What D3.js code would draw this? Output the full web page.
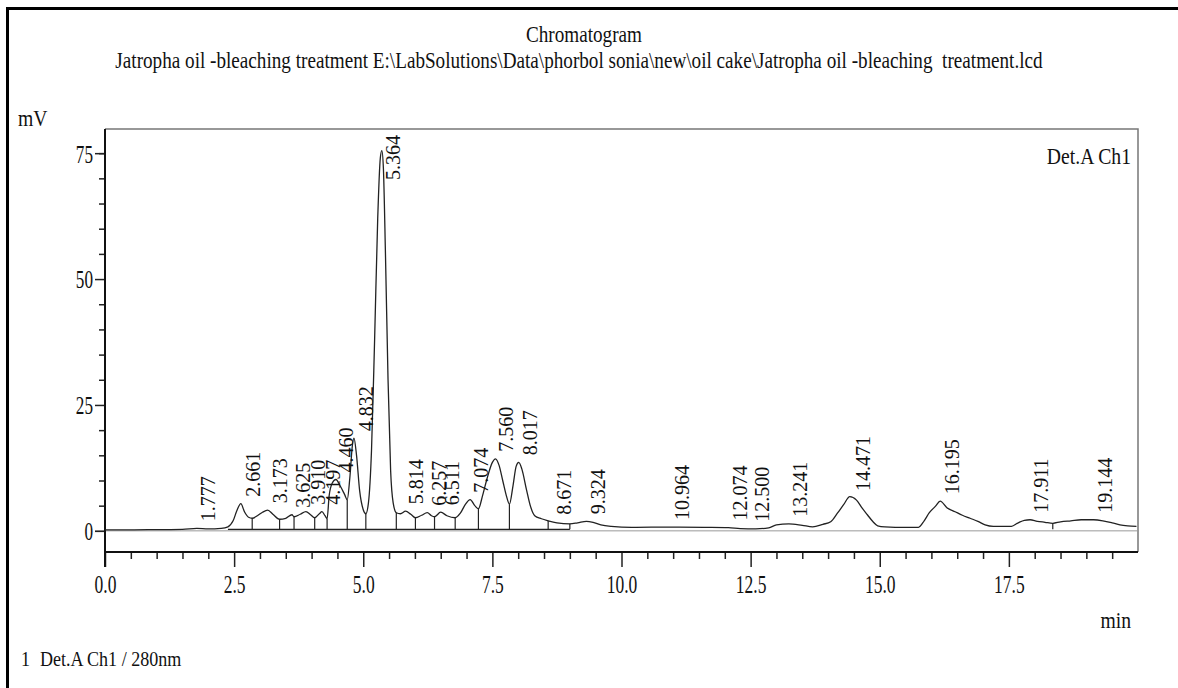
<!DOCTYPE html>
<html>
<head>
<meta charset="utf-8">
<script src="https://cdn.jsdelivr.net/npm/d3@7"></script>
<style>
  body { margin: 0; background: #fff; }
  svg text { font-family: "Liberation Serif", "Times New Roman", serif; fill: #111; white-space: pre; }
</style>
</head>
<body>
<div id="chart"></div>
<script>

// chromatogram trace (time in min, signal in mV)
const traceTime = [
  0.0, 0.5, 1.0, 1.5, 1.777, 2.0, 2.25, 2.38, 2.48, 2.56, 2.63, 2.70, 2.78, 2.85, 2.95, 3.05, 3.15, 3.25,
  3.38, 3.50, 3.62, 3.66, 3.78, 3.89, 3.98, 4.06, 4.15, 4.20, 4.26, 4.30, 4.34, 4.40, 4.47, 4.56, 4.64,
  4.69, 4.74, 4.79, 4.82, 4.87, 4.93, 5.00, 5.05, 5.10, 5.16, 5.22, 5.28, 5.33, 5.36, 5.39, 5.43, 5.48,
  5.53, 5.58, 5.64, 5.72, 5.82, 5.92, 6.01, 6.13, 6.24, 6.32, 6.38, 6.50, 6.62, 6.78, 6.88, 6.98, 7.07,
  7.16, 7.23, 7.31, 7.40, 7.50, 7.56, 7.63, 7.70, 7.77, 7.83, 7.90, 7.96, 8.01, 8.07, 8.16, 8.24, 8.32,
  8.45, 8.58, 8.75, 9.00, 9.15, 9.32, 9.45, 9.60, 9.80, 10.2, 10.96, 11.6, 12.07, 12.3, 12.6, 12.85, 13.0,
  13.24, 13.5, 13.7, 13.9, 14.05, 14.18, 14.3, 14.42, 14.55, 14.66, 14.76, 14.87, 14.96, 15.1, 15.5, 15.75,
  15.86, 15.96, 16.08, 16.17, 16.30, 16.46, 16.60, 16.75, 16.9, 17.04, 17.2, 17.55, 17.68, 17.8, 17.91,
  18.05, 18.2, 18.35, 18.5, 18.7, 18.9, 19.14, 19.32, 19.5, 19.65, 19.8, 19.97
]
const traceSignal = [
  0.2, 0.2, 0.25, 0.3, 0.5, 0.4, 0.5, 0.8, 2.0, 4.2, 5.4, 3.8, 2.7, 2.5, 3.0, 3.7, 4.1, 3.3,
  2.3, 2.5, 3.2, 2.8, 3.3, 3.8, 3.2, 2.6, 3.4, 3.8, 3.0, 2.4, 7.0, 9.5, 10.2, 8.8, 7.2,
  6.2, 10.5, 17.0, 18.4, 15.0, 8.0, 4.2, 3.4, 5.5, 16, 38, 62, 74, 75.5, 72, 55, 30,
  12, 5.5, 3.6, 3.4, 3.9, 3.3, 2.6, 3.1, 3.6, 3.0, 2.8, 3.7, 3.0, 2.6, 3.5, 5.3, 6.2,
  5.0, 4.4, 7.0, 10.5, 13.6, 14.3, 13.0, 10.0, 7.0, 5.3, 9.0, 12.8, 13.6, 12.3, 8.2, 4.8, 3.0,
  2.4, 2.0, 1.6, 1.4, 1.6, 1.9, 1.7, 1.2, 0.9, 0.7, 0.75, 0.7, 0.65, 0.45, 0.4, 0.6, 1.2,
  1.4, 1.1, 0.8, 1.3, 1.8, 3.5, 5.2, 6.8, 6.1, 4.5, 3.2, 1.8, 1.0, 0.8, 0.7, 0.7,
  2.0, 3.6, 4.9, 5.9, 4.6, 3.8, 3.1, 2.5, 1.9, 1.2, 0.9, 0.9, 1.6, 2.1, 2.2,
  1.9, 1.7, 1.5, 1.8, 2.0, 2.2, 2.2, 2.0, 1.6, 1.2, 1.0, 0.9
]

// retention times printed above the peaks
const peakTimes = [
  1.777, 2.661, 3.173, 3.625, 3.910, 4.197, 4.460, 4.832, 5.364, 5.814, 6.257, 6.511, 7.074, 7.560,
  8.017, 8.671, 9.324, 10.964, 12.074, 12.500, 13.241, 14.471, 16.195, 17.911, 19.144
]

// peak boundaries where a drop line is drawn down to the baseline
const dropTimes = [2.85, 3.38, 3.66, 4.06, 4.30, 4.69, 5.05, 5.64, 6.01, 6.38, 6.78, 7.23, 7.83, 8.58, 9.00, 18.35]

const yMajorTicks = [0, 25, 50, 75]
const yMinorTicks = [5, 10, 15, 20, 30, 35, 40, 45, 55, 60, 65, 70, 75]
const xMajorTicks = [0, 2.5, 5, 7.5, 10, 12.5, 15, 17.5]
const xMinorTicks = [0.5, 1, 1.5, 2, 3, 3.5, 4, 4.5, 5.5, 6, 6.5, 7, 8, 8.5, 9, 9.5, 10.5, 11, 11.5, 12,
  13, 13.5, 14, 14.5, 15.5, 16, 16.5, 17, 18, 18.5, 19, 19.5]

const titleText = 'Chromatogram'
const subtitleText = 'Jatropha oil -bleaching treatment E:\\LabSolutions\\Data\\phorbol sonia\\new\\oil cake\\Jatropha oil -bleaching  treatment.lcd'
const yUnit = 'mV'
const xUnit = 'min'
const channelText = 'Det.A Ch1'
const footNumber = '1'
const footText = 'Det.A Ch1 / 280nm'

const integrationLevel = 0.3
const serif = '"Liberation Serif", "Times New Roman", serif'

const width = 1178
const height = 688
const margin = { left: 105, right: 40, top: 129, bottom: 136 }

const svg = d3.select('#chart')
  .append('svg')
  .attr('width', width)
  .attr('height', height)

const x = d3.scaleLinear().domain([0, 20]).range([margin.left, width - margin.right])
const y = d3.scaleLinear().domain([-4.2, 79.8]).range([height - margin.bottom, margin.top])

const plotL = x.range()[0], plotR = x.range()[1]
const plotT = y.range()[1], plotB = y.range()[0]

// outer frame of the printout
svg.append('path')
  .attr('d', `M7.5,${height} V8.5 H${width}`)
  .attr('fill', 'none')
  .attr('stroke', '#000')
  .attr('stroke-width', 3)

// plot box (top + right edges are grey)
svg.append('path')
  .attr('d', `M${plotL},${plotT} H${plotR} V${plotB}`)
  .attr('fill', 'none')
  .attr('stroke', '#777')
  .attr('stroke-width', 1.5)

// zero line
svg.append('line')
  .attr('x1', plotL - 10).attr('x2', plotR)
  .attr('y1', y(0)).attr('y2', y(0))
  .attr('stroke', '#999')
  .attr('stroke-width', 1)

// text helper: condensed serif
const textScale = 0.82
function addText(str, tx, ty, size, anchor) {
  return svg.append('text')
    .attr('transform', `translate(${tx},${ty}) scale(${textScale},1)`)
    .style('font-family', serif)
    .attr('font-size', size)
    .attr('text-anchor', anchor)
    .text(str)
}

// y axis
const yMajor = svg.append('g')
  .attr('transform', `translate(${plotL},0)`)
  .call(d3.axisLeft(y).tickValues(yMajorTicks).tickSize(10).tickSizeOuter(0).tickFormat(d3.format('d')))
yMajor.select('.domain').remove()
yMajor.selectAll('.tick line').attr('stroke', '#222').attr('stroke-width', 1.5)
yMajor.selectAll('.tick text')
  .attr('x', 0).attr('dy', '0.34em')
  .attr('transform', `translate(-12,0) scale(0.66,1)`)
  .style('font-family', serif)
  .attr('font-size', 26)
  .attr('fill', '#222')

const yMinor = svg.append('g')
  .attr('transform', `translate(${plotL},0)`)
  .call(d3.axisLeft(y).tickValues(yMinorTicks).tickSize(6).tickSizeOuter(0).tickFormat(''))
yMinor.select('.domain').remove()
yMinor.selectAll('.tick line').attr('stroke', '#222').attr('stroke-width', 1.5)

// x axis
const xMajor = svg.append('g')
  .attr('transform', `translate(0,${plotB})`)
  .call(d3.axisBottom(x).tickValues(xMajorTicks).tickSize(15).tickSizeOuter(0).tickFormat(d3.format('.1f')))
xMajor.select('.domain').remove()
xMajor.selectAll('.tick line').attr('stroke', '#222').attr('stroke-width', 1.5)
xMajor.selectAll('.tick text')
  .attr('y', 0).attr('dy', 0)
  .attr('transform', `translate(0,41) scale(0.7,1)`)
  .style('font-family', serif)
  .attr('font-size', 25)
  .attr('fill', '#222')

const xMinor = svg.append('g')
  .attr('transform', `translate(0,${plotB})`)
  .call(d3.axisBottom(x).tickValues(xMinorTicks).tickSize(7).tickSizeOuter(0).tickFormat(''))
xMinor.select('.domain').remove()
xMinor.selectAll('.tick line').attr('stroke', '#222').attr('stroke-width', 1.5)

// axis lines
svg.append('line')
  .attr('x1', plotL).attr('x2', plotL)
  .attr('y1', plotT).attr('y2', plotB + 15)
  .attr('stroke', '#111').attr('stroke-width', 2)
svg.append('line')
  .attr('x1', plotL).attr('x2', plotR)
  .attr('y1', plotB).attr('y2', plotB)
  .attr('stroke', '#111').attr('stroke-width', 2)

// integration baseline + drop lines
function signalAt(t) {
  const i = d3.bisectLeft(traceTime, t)
  if (i <= 0) return traceSignal[0]
  if (i >= traceTime.length) return traceSignal[traceSignal.length - 1]
  const t0 = traceTime[i - 1], t1 = traceTime[i]
  return traceSignal[i - 1] + (traceSignal[i] - traceSignal[i - 1]) * (t - t0) / (t1 - t0)
}

svg.append('line')
  .attr('x1', x(2.38)).attr('x2', x(9.0))
  .attr('y1', y(integrationLevel)).attr('y2', y(integrationLevel))
  .attr('stroke', '#222').attr('stroke-width', 1.2)

svg.append('g')
  .selectAll('line')
  .data(dropTimes)
  .join('line')
    .attr('x1', d => x(d)).attr('x2', d => x(d))
    .attr('y1', y(integrationLevel))
    .attr('y2', d => y(signalAt(d)))
    .attr('stroke', '#222')
    .attr('stroke-width', 1.2)

// the trace
const line = d3.line()
  .x(i => x(traceTime[i]))
  .y(i => y(traceSignal[i]))
  .curve(d3.curveMonotoneX)

svg.append('path')
  .datum(d3.range(traceTime.length))
  .attr('d', line)
  .attr('fill', 'none')
  .attr('stroke', '#222')
  .attr('stroke-width', 1.3)

// retention time labels (rotated, reading upward)
const labelGap = 7
svg.append('g')
  .selectAll('text')
  .data(peakTimes)
  .join('text')
    .style('font-family', serif)
    .attr('font-size', 20)
    .attr('fill', '#222')
    .text(d => d3.format('.3f')(d))
    .each(function (d) {
      const len = this.getComputedTextLength()
      const top = d3.max(traceTime.filter(t => Math.abs(t - d) <= 0.05).map(signalAt).concat([signalAt(d)]))
      let bottom = y(top) - labelGap
      if (bottom - len < plotT + 6) bottom = plotT + 6 + len
      d3.select(this).attr('transform', `translate(${x(d) + 18},${bottom}) rotate(-90)`)
    })

// titles and captions
const sub = svg.append('text')
  .style('font-family', serif)
  .attr('font-size', 23)
  .attr('text-anchor', 'middle')
  .text(subtitleText)
const subScale = 928 / sub.node().getComputedTextLength()
sub.attr('transform', `translate(579,68) scale(${subScale},1)`)

svg.append('text')
  .style('font-family', serif)
  .attr('font-size', 23)
  .attr('text-anchor', 'middle')
  .attr('transform', `translate(584,42) scale(${subScale},1)`)
  .text(titleText)

addText(yUnit, 18, 126, 24, 'start')
addText(channelText, 1131, 164, 24, 'end')
addText(xUnit, 1131, 628, 24, 'end')
addText(footNumber, 21, 666, 22, 'start')
addText(footText, 40, 666, 22, 'start')

</script>
</body>
</html>
